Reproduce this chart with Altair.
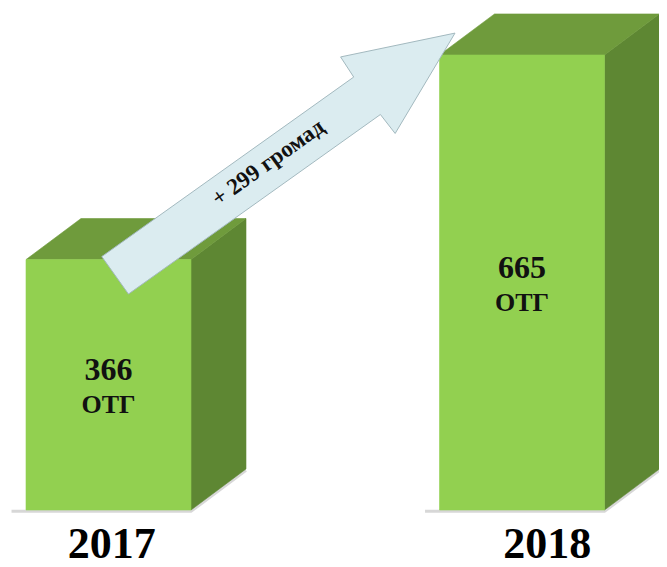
import math
import altair as alt
import pandas as pd

# ---- data ----
years = ["2017", "2018"]
values = [366, 665]
unit_labels = ["ОТГ", "ОТГ"]
arrow_text = "+ 299 громад"

# ---- styling / geometry constants ----
W, H = 651, 559
SY = 455 / 665                           # px per value unit
SX = 413.5                               # px per category unit
X_DOM = [-100.5 / SX, (W - 100.5) / SX]
Y_DOM = [-(H - 502) / SY, 502 / SY]
BW = 0.1995                              # half width of front face (x units)
DX = 0.133                               # depth offset x (x units)
DY = 60                                  # depth offset y (value units)

FRONT = "#92d050"
TOP = "#6f9b3c"
SIDE = "#5e8733"
ARROW_FILL = "#dbecf0"
ARROW_STROKE = "#a3b9bf"
FONT = "Liberation Serif"

# ---- bar faces as polygons built from the values ----
rows = []
for i, v in enumerate(values):
    x0, x1 = i - BW, i + BW
    faces = {
        "front": [(x0, 0), (x1, 0), (x1, v), (x0, v)],
        "top": [(x0, v), (x1, v), (x1 + DX, v + DY), (x0 + DX, v + DY)],
        "side": [(x1, 0), (x1 + DX, DY), (x1 + DX, v + DY), (x1, v)],
    }
    for face, pts in faces.items():
        for k, (x, y) in enumerate(pts):
            rows.append({"face": face, "bar": i, "k": k, "x": x, "y": y})
faces_df = pd.DataFrame(rows)

# shadow along the ground
shadow_rows = []
for i, v in enumerate(values):
    x0, x1 = i - BW, i + BW
    for k, (x, y) in enumerate([(x0 - 0.035, -2), (x1, -2), (x1 + DX, DY - 2)]):
        shadow_rows.append({"bar": i, "k": k, "x": x, "y": y})
shadow_df = pd.DataFrame(shadow_rows)

# ---- arrow from top of first bar to top of second bar ----
start = (0.016, values[0] - 23)
end = (1 - 0.162, values[1] + 32)


def to_px(p):
    return (p[0] * SX, -p[1] * SY)


def to_data(p):
    return (p[0] / SX, -p[1] / SY)


ps, pe = to_px(start), to_px(end)
L = math.hypot(pe[0] - ps[0], pe[1] - ps[1])
ux, uy = (pe[0] - ps[0]) / L, (pe[1] - ps[1]) / L
nx, ny = uy, -ux                         # perpendicular, upper-left side
SHAFT, HEAD, HEAD_LEN = 23, 47, 107
shape = [(0, SHAFT), (L - HEAD_LEN - 1, SHAFT), (L - HEAD_LEN, HEAD), (L, 0),
         (L - HEAD_LEN, -HEAD), (L - HEAD_LEN - 1, -SHAFT), (0, -SHAFT)]
arrow_rows = []
for k, (a, b) in enumerate(shape):
    px = (ps[0] + a * ux + b * nx, ps[1] + a * uy + b * ny)
    x, y = to_data(px)
    arrow_rows.append({"k": k, "x": x, "y": y})
arrow_df = pd.DataFrame(arrow_rows)

tp = (ps[0] + 190 * ux + 3 * nx, ps[1] + 190 * uy + 3 * ny)
tx, ty = to_data(tp)
angle = 360 - math.degrees(math.atan2(-uy, ux))
arrow_label_df = pd.DataFrame({"x": [tx], "y": [ty], "t": [arrow_text]})

labels_df = pd.DataFrame({
    "idx": list(range(len(years))),
    "year": years,
    "value": values,
    "unit": unit_labels,
})
labels_df["mid"] = labels_df["value"] / 2
labels_df["num"] = labels_df["value"].astype(str)
labels_df["yx"] = labels_df["idx"] + labels_df["idx"].map({0: 0.008, 1: 0.061})

xs = alt.Scale(domain=X_DOM, nice=False, zero=False)
ys = alt.Scale(domain=Y_DOM, nice=False, zero=False)
X = lambda f: alt.X(f, type="quantitative", scale=xs, axis=None)
Y = lambda f: alt.Y(f, type="quantitative", scale=ys, axis=None)

shadow = alt.Chart(shadow_df).mark_line(
    stroke="#9a9a9a", strokeWidth=3, opacity=0.4
).encode(x=X("x"), y=Y("y"), order="k:Q", detail="bar:N")


def face_layer(name, color):
    return alt.Chart(faces_df).transform_filter(
        alt.datum.face == name
    ).mark_line(
        interpolate="linear-closed", fill=color, stroke=color, strokeWidth=0.6
    ).encode(x=X("x"), y=Y("y"), order="k:Q", detail="bar:N")


arrow = alt.Chart(arrow_df).mark_line(
    interpolate="linear-closed", fill=ARROW_FILL, stroke=ARROW_STROKE, strokeWidth=1
).encode(x=X("x"), y=Y("y"), order="k:Q")

arrow_label = alt.Chart(arrow_label_df).mark_text(
    font=FONT, fontSize=23, fontWeight="bold", color="#111", angle=angle,
    baseline="middle", align="center"
).encode(x=X("x"), y=Y("y"), text="t:N")

num_text = alt.Chart(labels_df).mark_text(
    font=FONT, fontSize=32, fontWeight="bold", color="#111", dy=-15, baseline="middle"
).encode(x=X("idx"), y=Y("mid"), text="num:N")

unit_text = alt.Chart(labels_df).mark_text(
    font=FONT, fontSize=26, fontWeight="bold", color="#111", dy=20, baseline="middle"
).encode(x=X("idx"), y=Y("mid"), text="unit:N")

year_text = alt.Chart(labels_df).mark_text(
    font=FONT, fontSize=44, fontWeight="bold", color="#000", baseline="bottom"
).encode(x=X("yx"), y=alt.value(H), text="year:N")

chart = alt.layer(
    shadow,
    face_layer("side", SIDE),
    face_layer("top", TOP),
    face_layer("front", FRONT),
    arrow,
    arrow_label,
    num_text,
    unit_text,
    year_text,
).properties(
    width=W, height=H, padding=0, autosize="none", background="white"
).configure_view(stroke=None)

chart.save("out.html", embed_options={"renderer": "svg", "actions": False})
